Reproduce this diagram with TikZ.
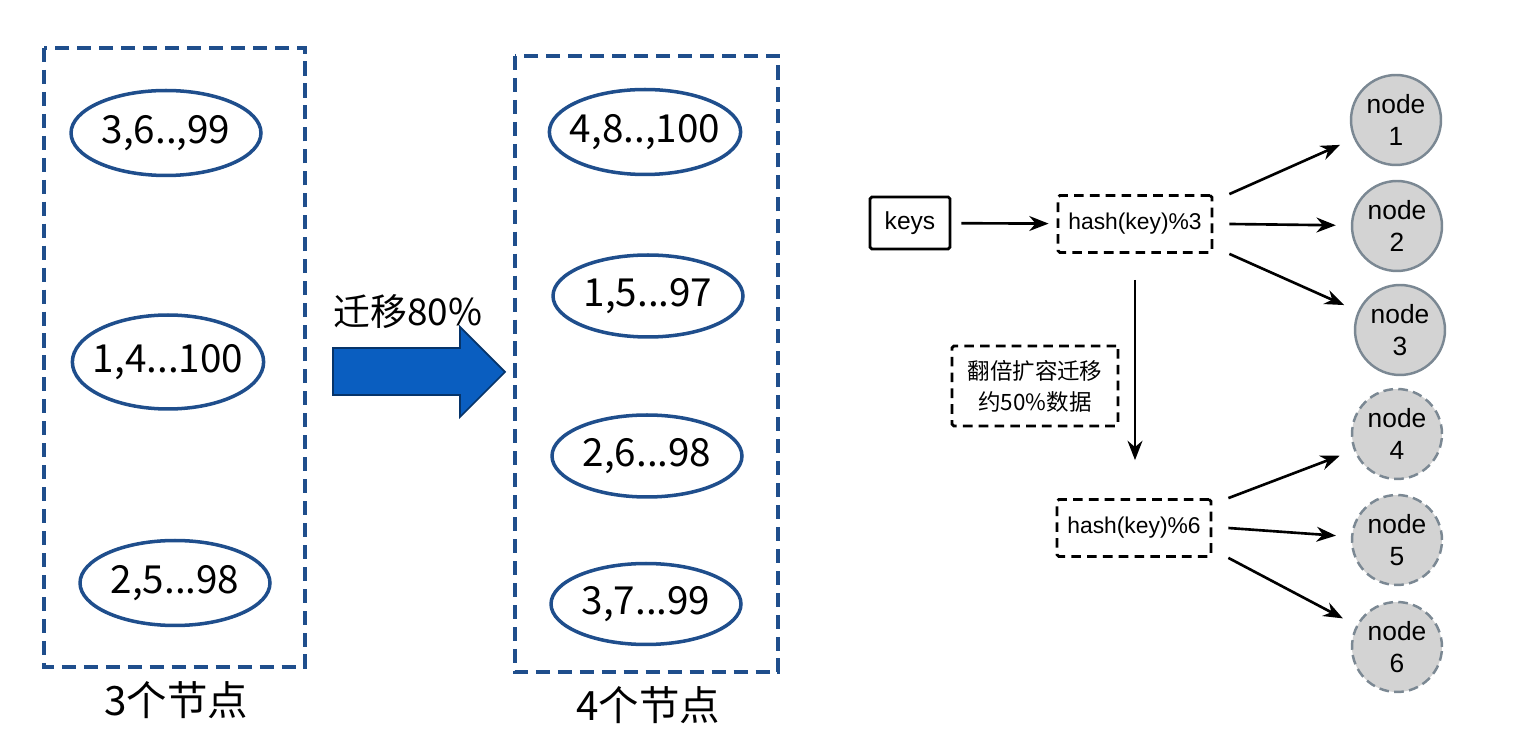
\documentclass[tikz,border=0pt]{standalone}
\usepackage{fontspec}
\setmainfont{Liberation Sans}
\newfontfamily\cjk{Noto Sans CJK SC}
\usetikzlibrary{shapes.geometric,arrows.meta,positioning}
\definecolor{boxblue}{HTML}{1F4E8C}
\definecolor{arrowblue}{HTML}{0A5EC0}
\definecolor{nodegray}{HTML}{D3D3D3}
\definecolor{rimgray}{HTML}{7B8893}
\tikzset{
  group/.style={draw=boxblue,line width=2.2pt,dash pattern=on 8pt off 4.5pt},
  bucket/.style={ellipse,draw=boxblue,line width=2pt,minimum width=3.8cm,minimum height=1.7cm,inner ysep=0pt,inner xsep=-0.15cm,font=\cjk\fontsize{22}{26}\selectfont},
  caption/.style={font=\cjk\fontsize{23}{27}\selectfont},
  keybox/.style={draw,line width=1.6pt,rounded corners=1pt,minimum width=1.6cm,minimum height=1.04cm,font=\fontsize{14}{16}\selectfont},
  hashbox/.style={draw,line width=1.6pt,dash pattern=on 5.5pt off 3.5pt,rounded corners=1pt,minimum width=3.08cm,minimum height=1.14cm,inner sep=1pt,font=\fontsize{13}{15}\selectfont},
  server/.style={circle,draw=rimgray,fill=nodegray,line width=1.4pt,minimum size=1.8cm,inner sep=0pt,align=center,font=\fontsize{15}{18}\selectfont},
  newserver/.style={server,dash pattern=on 5.5pt off 3pt},
  link/.style={-{Stealth[length=11pt,width=8.5pt]},line width=1.5pt}
}
\begin{document}
\begin{tikzpicture}[x=0.02cm,y=-0.02cm]
\useasboundingbox (0,0) rectangle (1516,739);

% 3 nodes -> 4 nodes
\draw[group] (44,48) rectangle (305,667);
\draw[group] (515,56) rectangle (778,672);
\path
(166,133) node[bucket] (a1) {3,6..,99}
(168,362) node[bucket,minimum height=1.88cm] (a2) {1,4...100}
(175,583) node[bucket] (a3) {2,5...98}
(176,700) node[caption] (c3) {3个节点}
(645,132) node[bucket] (b1) {4,8..,100}
(648,296) node[bucket,minimum height=1.64cm] (b2) {1,5...97}
(647,456) node[bucket,minimum height=1.64cm] (b3) {2,6...98}
(646,604) node[bucket,minimum height=1.62cm] (b4) {3,7...99}
(648,705) node[caption] (c4) {4个节点};

\filldraw[fill=arrowblue,draw=arrowblue!55!black,line width=1pt]
  (333,348) -- (460,348) -- (460,327) -- (505,372) -- (460,417) -- (460,395) -- (333,395) -- cycle;
\node[font=\cjk\fontsize{21}{25}\selectfont] (mv) at (408,312) {迁移80\%};

% hash(key) % N
\path
(910,223)  node[keybox] (k) {keys}
(1135,224) node[hashbox] (h3) {hash(key)\%3}
(1134,528) node[hashbox] (h6) {hash(key)\%6}
(1035,386) node[hashbox,minimum width=3.32cm,minimum height=1.6cm,align=center,
  font=\cjk\fontsize{12.8}{17.6}\selectfont] (dbl) {翻倍扩容迁移\\约50\%数据};

\path
(1396,120) node[server] (n1) {node\\1}
(1397,226) node[server] (n2) {node\\2}
(1400,330) node[server] (n3) {node\\3}
(1397,434) node[newserver] (n4) {node\\4}
(1397,540) node[newserver] (n5) {node\\5}
(1397,647) node[newserver] (n6) {node\\6};

\draw[link,shorten <=0.2cm,shorten >=0.16cm] (k) -- (h3);
\draw[link,shorten <=0.52cm,shorten >=0.76cm] (h3.south) -- (h3.south |- h6.north);
\draw[link,shorten >=0.3cm] ([xshift=0.32cm]h3.north east) -- (n1);
\draw[link,shorten >=0.3cm] ([xshift=0.32cm]h3.east) -- (n2);
\draw[link,shorten >=0.3cm] ([xshift=0.32cm]h3.south east) -- (n3);
\draw[link,shorten >=0.3cm] ([xshift=0.32cm]h6.north east) -- (n4);
\draw[link,shorten >=0.3cm] ([xshift=0.32cm]h6.east) -- (n5);
\draw[link,shorten >=0.3cm] ([xshift=0.32cm]h6.south east) -- (n6);
\end{tikzpicture}
\end{document}
